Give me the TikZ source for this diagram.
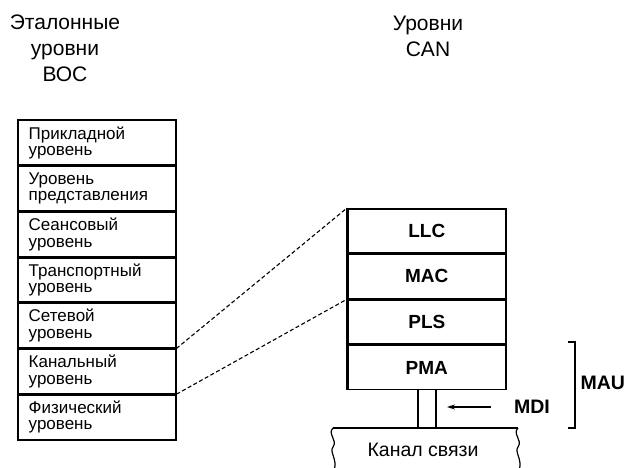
\documentclass[tikz,border=0pt]{standalone}
\usepackage{fontspec}
\setmainfont{Liberation Sans}
\usetikzlibrary{arrows.meta}
\begin{document}
\begin{tikzpicture}[x=1pt,y=-1pt,
  osi/.style={draw, line width=1.4pt, minimum width=157pt, minimum height=44.3pt,
    anchor=north west, inner sep=0pt, align=left, text width=137pt,
    font=\fontsize{17}{16.5}\selectfont},
  can/.style={draw, line width=1.6pt, minimum width=158pt, minimum height=44pt,
    anchor=north west, inner sep=0pt, font=\fontsize{19}{22}\bfseries\selectfont},
  head/.style={align=center, font=\fontsize{21}{26}\selectfont},
  lbl/.style={font=\fontsize{19.5}{22}\bfseries\selectfont},
  conn/.style={line width=1.1pt, dash pattern=on 4pt off 2.5pt},
  thick line/.style={line width=1.8pt}]
\useasboundingbox (0,0) rectangle (627,468);

% headings
\node[head] (h1) at (65,48) {Эталонные\\уровни\\ВОС};
\node[head] (h2) at (428,36) {Уровни\\CAN};

% OSI stack
\node[osi] (L1) at (18,120) {Прикладной\\уровень};
\node[osi] (L2) at (L1.south west) {Уровень\\представления};
\node[osi] (L3) at (L2.south west) {Сеансовый\\уровень};
\node[osi] (L4) at (L3.south west) {Транспортный\\уровень};
\node[osi] (L5) at (L4.south west) {Сетевой\\уровень};
\node[osi] (L6) at (L5.south west) {Канальный\\уровень};
\node[osi] (L7) at (L6.south west) {Физический\\уровень};
\draw[thick line] (L1.north west) rectangle (L7.south east);
\draw[thick line] (L5.north west) -- (L5.north east);
\draw[thick line] (L6.north west) -- (L6.north east);

% CAN stack
\node[can] (LLC) at (347,208) {LLC};
\node[can] (MAC) at (LLC.south west) {MAC};
\node[can] (PLS) at (MAC.south west) {PLS};
\node[can] (PMA) at (PLS.south west) {PMA};
\draw[line width=2.6pt] (LLC.north west) -- (PMA.south west);
\draw[thick line] (PLS.north west) -- (PLS.north east);
\draw[thick line] (PMA.north west) -- (PMA.north east);

% connectors
\draw[conn] (L6.north east) -- (LLC.north west);
\draw[conn] (L7.north east) -- (PLS.north west);

% stem
\coordinate (s1) at ([xshift=-9pt]PMA.south);
\coordinate (s2) at ([xshift=9pt]PMA.south);
\coordinate (cl) at (333,428);
\coordinate (cr) at (518,428);
\draw[thick line] (s1) -- (s1 |- cl);
\draw[thick line] (s2) -- (s2 |- cl);

% channel
\draw[line width=1.5pt] (cl) -- (cr);
\draw[line width=1.2pt] (cl) .. controls (327,434) and (338,440) .. (333,447)
  .. controls (329,452) and (338,460) .. (334,470);
\draw[line width=1.2pt] (cr) .. controls (512,434) and (523,440) .. (518,447)
  .. controls (514,452) and (523,460) .. (519,470);
\node[font=\fontsize{19.5}{22}\selectfont] (chan) at (423,450) {Канал связи};

% MDI
\node[lbl] (mdi) at (532,407) {MDI};
\coordinate (mdiTip) at (447,407);
\draw[line width=1.1pt, -{Stealth[length=8pt,width=5pt]}] ([xshift=-20pt]mdi.west) -- (mdiTip);

% MAU bracket
\coordinate (b1) at (575,342);
\coordinate (b2) at (575,428);
\draw[line width=1.2pt] ([xshift=-7pt]b1) -- (b1) -- (b2) -- ([xshift=-7pt]b2);
\node[lbl, anchor=west] (mau) at (577,383) {MAU};
\end{tikzpicture}
\end{document}
